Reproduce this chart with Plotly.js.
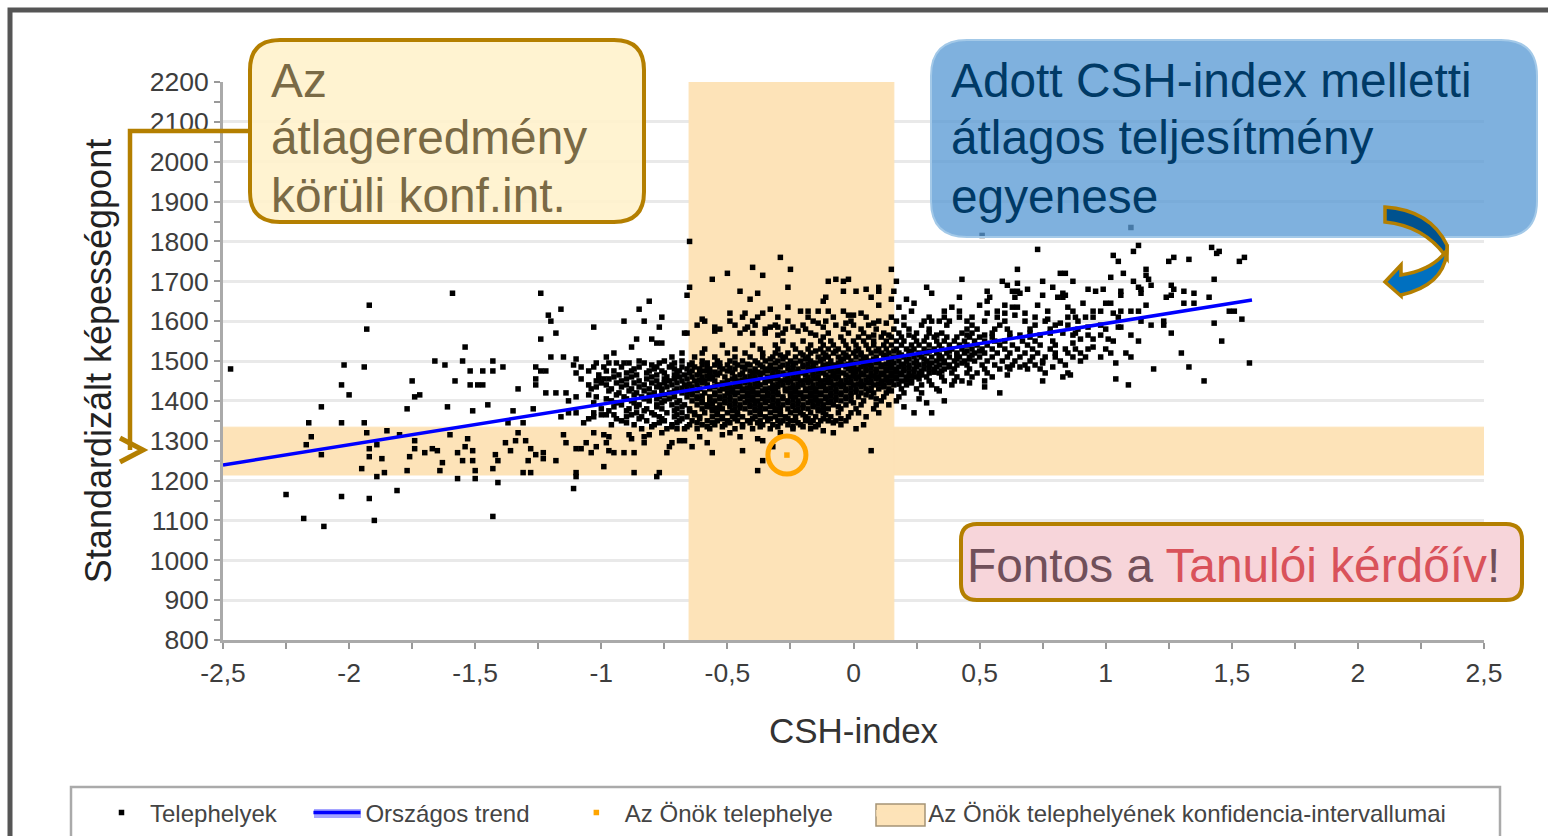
<!DOCTYPE html>
<html><head><meta charset="utf-8">
<script src="https://cdn.plot.ly/plotly-3.0.1.min.js"></script>
<style>html,body{margin:0;padding:0;background:#fff;overflow:hidden}</style>
</head><body><div id="chart" style="width:1548px;height:836px"></div>
<script>
const xTickVals=[-2.5,-2,-1.5,-1,-0.5,0,0.5,1,1.5,2,2.5];
const xTickText=['-2,5','-2','-1,5','-1','-0,5','0','0,5','1','1,5','2','2,5'];
const trendCsh=[-2.5,1.58];
const trendScore=[1239,1653];
const ownCsh=[-0.264];
const ownScore=[1264];
const ciCshLow=-0.652, ciCshHigh=0.16, ciScoreLow=1214, ciScoreHigh=1334;

// [score, csh-index values of the sites at that score]
const sitesUpper=[
[1835,[1.1]],[1815,[.51]],[1800,[-.65]],[1790,[1.13]],[1785,[1.42]],[1780,[.73]],[1775,[1.11,1.45]],[1770,[1.44]],[1765,[1.03]],
[1760,[-.29,1.27,1.55]],[1755,[1.33]],[1750,[1.05,1.25,1.53]],[1735,[-.4]],[1730,[-.25,.15,.65,1.16]],[1720,[-.5,.82,.84,1.07]],
[1715,[-.36,1.16]],[1710,[1.02]],[1705,[-.56,-.07,-.02,.43,1.17,1.43]],[1700,[-.1,-.04,.17,.59,.75,.87,1.11]],[1695,[.65]],
[1690,[.61,1.18,1.26]],[1685,[-.65,-.26,.1,.29,.79,1.13]],[1680,[.05,.69,.93,.99,1.27,1.14]],
[1675,[-.45,-.04,.01,.1,.16,.53,.65,.96,1.06,1.31,.63]],[1670,[-1.59,-1.24,-.38,.31,.83,1.14,1.35,.66]],
[1665,[-.66,.75,.84,1.06,1.26]],[1660,[-.11,.07,.42,.54,.64,.81,.83,1.24,1.41]],[1655,[-.41,.15,.21]],[1650,[-.81,-.12,.53]],
[1645,[.24,1,1.02,.91,1.31,1.35]],[1640,[-1.92,.1,.5,.6,.73,1.16]],[1635,[-.26,.18,.39,.63,.65,.85]],[1630,[-1.16,-.85,-.33]],
[1625,[-.1,-.14,-.18,-.21,-.04,.23,.36,.42,.57,.77,.87,.95,.98,1.06,1.1,1.13,1.49,1.51]],[1620,[-.49,-.43,-.36,.03,.53,.6,.68,1.03]],
[1615,[-1.21,-.02,0,.64]],[1610,[-.76,-.44,-.38,-.18,.2,.36,.42,.88,.95,1.05,-.3,-.08,.05,.15,.3,.47,.57,.72,.85,.92]],[1605,[-.6,.77,1.54]],
[1600,[-1.2,-.91,-.83,-.49,-.26,-.16,-.01,.1,.28,.31,.34,.68,1.14,1.23,-.59,-.4,-.11,.17,.38,.45,.52,.6,.76,.89]],[1595,[-.14,-.03,.08,.13,.82,1.43]],
[1590,[.85,1.18,1.23,-.62,-.47,-.39,-.31,-.2,-.07,0,.06,.2,.27,.37,.47,.58,.72,.8,.98]],
[1585,[-1.03,-.77,-.55,-.42,-.33,-.3,-.24,-.12,.93,1.05,1.06]],[1580,[-1.93,-.43,-.53,-.35,-.27,-.19,-.04,.03,.09,.16,.22,.3,.45,.49,.56,.61,.7,.78,.89,1]],[1575,[-.55,-.22]],
[1570,[-1.18,-.67,-.66,-.4,.83,1.26,-.45,-.35,-.28,-.17,-.1,-.02,.04,.12,.18,.25,.3,.35,.43,.47,.55,.62,.7,.78,.88]],
[1565,[.87,.93,.98,1.1,-.3,-.15,.08,.14,.22,.33,.45,.52,.66,.74]],[1555,[-1.24,-.86,-.8,.9,.95,1.01]],[1545,[-.78,-.76,.87]],[1535,[-1.54,-.88,.95]],
[1550,[1.03,1.13,1.46]],[1530,[.88,.93,1]],[1520,[-.95,1.3,.85,.9,1.02,1.08]],[1510,[-1.2,-1.15,-.98,.87,1.1,.8,.92,.98]],[1505,[-1.1]],[1500,[-1.66,-1.55,-1.43,-.85,.75,.82,.9]],
[1495,[-.94,-.91,.75,1.04,1.57]],[1490,[-2.02,-1.62,-1.11,.72,.84]],[1485,[-1.94,-1.39,-1.26,-1.08,-1.03,.79,.66,.61,1.33]],[1480,[-2.47,.69,1.19,.62,.74]],
[1475,[-1.52,-1.47,-1.43,-1.24,-1.22,-.98]],[1470,[-1.1,.76,.53,.85]],[1465,[.61,.86]],[1460,[.83]],[1455,[-1.26,-1.08,-1.01,-.99,1.04]],
[1450,[-1.75,-1.58,.75,.52,.43,1.39]],[1445,[.46]],[1440,[-2.03,-1.52,-1.49,-1.47,-1.26,-1.05,.39,1.09]],[1435,[.52]],[1430,[-1.33]],
[1425,[.34]],[1420,[-1.22,-1.18,-1.14,.58]],[1415,[-2,-1.72]],[1410,[-1.74,-1.1]],[1405,[.26]],[1400,[-1.13,.36]],[1395,[.29]],[1390,[-1.45]],
[1385,[-2.11,-1.61,.2]],[1380,[-1.77,-1.27]],[1375,[-1.51,-1.35]],[1370,[-1.13,-1.1,-1.03,.24,.31,.1,-.01]],[1365,[-.98,-.95]],[1360,[-1.16]]
];
const sitesCore=[
[1560,[-.12,-.05,.02,.06,.11,.15,.19,.24,.29,.32,.37,.41,.46,.5,.55,.62,.7]],
[1550,[-.28,-.2,-.13,-.09,-.04,0,.04,.08,.13,.17,.2,.25,.28,.33,.36,.4,.44,.48,.52,.56,.6,.67,.72,.79]],
[1540,[-.52,-.4,-.31,-.24,-.17,-.12,-.08,-.03,.01,.05,.08,.12,.15,.19,.23,.26,.3,.34,.38,.42,.45,.49,.53,.58,.63,.69,.74,.8]],
[1530,[-.59,-.47,-.37,-.3,-.23,-.18,-.13,-.1,-.06,-.02,.02,.06,.1,.13,.17,.21,.24,.28,.32,.35,.39,.43,.47,.51,.55,.6,.65,.71,.78,.84]],
[1525,[-.15,-.07,.01,.09,.16,.23,.3,.38,.45,.5]],
[1520,[-.68,-.6,-.5,-.43,-.36,-.31,-.26,-.21,-.17,-.12,-.08,-.04,0,.03,.07,.11,.14,.18,.22,.26,.29,.33,.37,.41,.44,.48,.52,.57,.62,.68,.73,.8]],
[1515,[-.29,-.2,-.11,-.03,.03,.12,.19,.26,.34,.41,.47]],
[1510,[-.72,-.63,-.55,-.47,-.41,-.36,-.32,-.27,-.23,-.18,-.14,-.1,-.06,-.02,.01,.05,.09,.13,.16,.2,.24,.27,.31,.35,.38,.42,.46,.5,.55,.61,.66,.71,.76]],
[1505,[-.33,-.28,-.19,-.12,-.04,.04,.08,.15,.22,.28,.34,.41,.46]],
[1500,[-.75,-.68,-.6,-.54,-.49,-.44,-.39,-.35,-.3,-.25,-.21,-.17,-.13,-.09,-.05,-.01,.03,.06,.1,.14,.18,.21,.25,.29,.33,.36,.4,.44,.48,.53,.59,.64,.7]],
[1495,[-.47,-.38,-.31,-.23,-.15,-.06,.01,.09,.16,.24,.31,.36,.43,-1.02,-.97,-.89,-.83,-.77,-.71,-.64,-.58,-.53]],
[1492,[-.42,-.26,-.18,-.1,-.02,.06,.13,.2,.28]],
[1490,[-.8,-.72,-.65,-.6,-.55,-.5,-.46,-.41,-.37,-.33,-.28,-.24,-.2,-.16,-.12,-.08,-.04,0,.04,.07,.11,.15,.19,.22,.26,.3,.34,.38,.41,.45,.51,.56,.63,.68]],
[1485,[-.53,-.44,-.36,-.29,-.2,-.12,-.03,.03,.11,.18,.25,.33,.38,-.99,-.92,-.85,-.78,-.73,-.68,-.63,-.58]],
[1482,[-.49,-.33,-.24,-.16,-.08,0,.07,.15,.22,.3]],
[1480,[-.87,-.79,-.71,-.66,-.61,-.57,-.52,-.47,-.43,-.39,-.35,-.31,-.26,-.22,-.18,-.14,-.1,-.06,-.02,.02,.05,.09,.13,.17,.2,.24,.28,.32,.36,.4,.46,.52,.58]],
[1475,[-.59,-.5,-.41,-.34,-.25,-.17,-.09,-.01,.05,.13,.2,.27,.35,-1.05,-.95,-.88,-.81,-.76,-.69,-.64]],
[1472,[-.55,-.38,-.3,-.22,-.14,-.06,.01,.09,.17,.24,.32]],
[1470,[-.9,-.82,-.75,-.7,-.65,-.61,-.57,-.53,-.48,-.44,-.4,-.36,-.32,-.28,-.24,-.2,-.16,-.12,-.08,-.04,0,.03,.07,.11,.15,.19,.22,.26,.3,.34,.39,.45,.49]],
[1465,[-.62,-.54,-.45,-.37,-.27,-.19,-.11,-.03,.04,.12,.19,.27,-1.01,-.93,-.86,-.78,-.71,-.67]],
[1462,[-.58,-.41,-.32,-.24,-.16,-.08,0,.08,.15,.23]],
[1460,[-.95,-.88,-.8,-.74,-.69,-.64,-.6,-.56,-.51,-.47,-.43,-.39,-.34,-.3,-.26,-.22,-.18,-.14,-.1,-.06,-.02,.02,.06,.1,.13,.17,.21,.25,.29,.35,.41,.47,.55]],
[1455,[-.66,-.57,-.48,-.4,-.31,-.23,-.15,-.07,.01,.09,.17,.26,-.97,-.9,-.82,-.75,-.71]],
[1452,[-.61,-.44,-.35,-.27,-.19,-.11,-.03,.05,.13,.21]],
[1450,[-1.02,-.92,-.85,-.78,-.73,-.68,-.63,-.59,-.55,-.5,-.46,-.42,-.38,-.33,-.29,-.25,-.21,-.17,-.13,-.09,-.05,-.01,.03,.07,.11,.15,.19,.23,.3,.36,.4]],
[1445,[-.7,-.6,-.52,-.43,-.35,-.26,-.18,-.1,-.02,.06,.14,.23,-1,-.94,-.87,-.8,-.75]],
[1442,[-.65,-.47,-.39,-.3,-.22,-.14,-.06,.02,.1,.18]],
[1440,[-.98,-.9,-.83,-.77,-.72,-.67,-.62,-.58,-.54,-.49,-.45,-.41,-.37,-.32,-.28,-.24,-.2,-.16,-.12,-.08,-.04,0,.04,.08,.12,.16,.21,.27,.31]],
[1435,[-.74,-.64,-.55,-.46,-.38,-.3,-.22,-.13,-.05,.03,.12,-1.02,-.92,-.85,-.78]],
[1432,[-.68,-.5,-.42,-.33,-.25,-.17,-.09,-.01,.07]],
[1430,[-1.04,-.96,-.88,-.81,-.76,-.7,-.66,-.61,-.57,-.52,-.48,-.44,-.4,-.35,-.31,-.27,-.23,-.19,-.15,-.11,-.07,-.03,.01,.05,.1,.14,.19,.25,.33]],
[1425,[-.71,-.62,-.53,-.44,-.36,-.27,-.19,-.11,-.03,.06,.15,-.97,-.89,-.83,-.76]],
[1422,[-.66,-.48,-.4,-.32,-.23,-.15,-.07,.01]],
[1420,[-.93,-.86,-.79,-.73,-.68,-.64,-.59,-.55,-.5,-.46,-.42,-.38,-.34,-.3,-.25,-.21,-.17,-.13,-.09,-.05,-.01,.03,.08,.13,.2,.27]],
[1415,[-.75,-.64,-.55,-.47,-.38,-.3,-.21,-.13,-.05,.05,-1.05,-.94,-.87,-.81]],
[1412,[-.6,-.51,-.42,-.34,-.25,-.17,-.09,-.01]],
[1410,[-1.02,-.91,-.84,-.77,-.71,-.66,-.62,-.57,-.53,-.49,-.44,-.4,-.36,-.32,-.28,-.23,-.19,-.15,-.11,-.07,-.03,.02,.07,.12,.18]],
[1405,[-.73,-.62,-.53,-.45,-.36,-.28,-.2,-.11,-.03,.09,-.98,-.9,-.83,-.78]],
[1402,[-.57,-.49,-.4,-.32,-.24,-.15,-.07]],
[1400,[-.96,-.88,-.81,-.75,-.69,-.64,-.6,-.55,-.51,-.47,-.42,-.38,-.34,-.3,-.26,-.22,-.17,-.13,-.09,-.05,-.01,.04,.11,.17]],
[1395,[-.7,-.6,-.51,-.43,-.35,-.26,-.18,-.1,0,-1.03,-.94,-.87,-.76]],
[1392,[-.56,-.47,-.39,-.3,-.22,-.14]],
[1390,[-.92,-.85,-.78,-.72,-.67,-.62,-.58,-.53,-.49,-.45,-.41,-.37,-.32,-.28,-.24,-.2,-.16,-.12,-.08,-.03,.03,.09,.14]],
[1385,[-.68,-.58,-.49,-.41,-.33,-.24,-.16,-.06,-.95,-.86,-.78]],
[1382,[-.54,-.45,-.37,-.29,-.2,-.12]],
[1380,[-1,-.89,-.82,-.76,-.7,-.65,-.6,-.56,-.52,-.47,-.43,-.39,-.35,-.31,-.26,-.22,-.18,-.14,-.1,-.05,.01,.08]],
[1375,[-.65,-.56,-.48,-.39,-.31,-.23,-.14,-.97,-.9,-.83,-.71]],
[1370,[-.86,-.8,-.74,-.68,-.63,-.59,-.54,-.5,-.46,-.41,-.37,-.33,-.29,-.25,-.21,-.17,-.12,-.06,.02]],
[1365,[-.63,-.54,-.46,-.37,-.29,-.2,-.11,-1,-.88,-.79,-.7]],
[1360,[-1.03,-.9,-.84,-.77,-.71,-.66,-.61,-.56,-.52,-.48,-.44,-.39,-.35,-.31,-.27,-.23,-.19,-.15,-.09,-.02,.05]],
[1355,[-1.05,-.94,-.85,-.76,-.68,-.61,-.52,-.47,-.4,-.33,-.26,-.18,-.12,-.05]],
[1350,[-.92,-.82,-.75,-.69,-.64,-.58,-.54,-.5,-.46,-.42,-.37,-.34,-.3,-.28,-.25,-.23,-.19,-.16,-.13,-.1,-.07,-.03]],
[1345,[-.9,-.77,-.7,-.62,-.56,-.49,-.41,-.38,-.29,-.22,-.17,-.08]],
[1340,[-.96,-.87,-.79,-.72,-.65,-.6,-.55,-.51,-.44,-.36,-.32,-.26,-.21,-.14,-.05,.04]],
[1335,[-.8,-.72,-.66,-.58,-.52,-.44,-.37,-.3,-.24,-.2,-.15]],
[1330,[-.84,-.74,-.7,-.67,-.62,-.57,-.47,-.4,-.33,-.24,-.17,.01]]
];
const sitesLower=[
[1345,[-2.16,-2.03,-1.94,-1.37,-1.31,-1.07]],[1325,[-1.85,-.12]],[1320,[-1.93,-1.33,-1.03,-.76,-.49,-.29,-.08]],
[1315,[-1.8,-1.6,-1.15,-.99,-.89,-.81,-.52]],[1310,[-2.15,-.97,-.83,-.61,-.45]],[1305,[-1.53,-.88,-.38]],[1300,[-1.74,-1.34,-1.3,-.69,-.67,-.36]],
[1295,[-1.38,-1.14,-1.06,-.98,-.83,-.72,-.58]],[1290,[-2.17,-1.89]],[1285,[-1.54,-1.02,-.73,-.64,-.32]],
[1280,[-1.92,-1.74,-1.67,-1.28,-1.1,-1.08]],[1275,[-1.65,-1.51,-1.36,-.97,-.44,.07]],
[1270,[-1.7,-1.57,-1.23,-1.04,-.95,-.91,-.87,-.74,-.56]],[1265,[-2.11,-1.42,-1.26]],[1260,[-1.92,-1.76]],[1255,[-1.87,-1.23]],
[1250,[-1.55,-1.51,-1.41,-1.29,-1.18,-.36]],[1245,[-1.63]],[1235,[-.99]],[1230,[-1.95,-1.43]],[1225,[-1.77,-1.64,-1.5,-.38]],
[1220,[-1.86,-1.31,-1.28,-1.1,-.87,-.77]],[1210,[-1.89,-1.1,-.78]],[1205,[-1.57,-1.5]],[1195,[-1.41]],[1180,[-1.11]],[1175,[-1.81]],
[1165,[-2.25]],[1160,[-2.03]],[1155,[-1.92]],[1110,[-1.43]],[1105,[-2.18]],[1100,[-1.9]],[1085,[-2.1]]
];
const siteRows=[...sitesUpper,...sitesCore,...sitesLower];
const siteCsh=siteRows.flatMap(r=>r[1]);
const siteScore=siteRows.flatMap(r=>r[1].map(()=>r[0]));

// page geometry of the plot area
const L=223,R=1484,T=82,B=640;
const W=1548,H=836;
const px=v=>(v-L)/(R-L), py=v=>(B-v)/(B-T);
const pathOf=(cmds)=>cmds.map(c=>c[0]+(c.length>1?' '+c.slice(1).reduce((a,v,i)=>a.concat(i%2?py(v):px(v)),[]).join(' '):'')).join(' ');
function roundBox(x0,y0,x1,y1,r){
  return pathOf([['M',x0+r,y0],['L',x1-r,y0],['Q',x1,y0,x1,y0+r],['L',x1,y1-r],['Q',x1,y1,x1-r,y1],['L',x0+r,y1],['Q',x0,y1,x0,y1-r],['L',x0,y0+r],['Q',x0,y0,x0+r,y0],['Z']]);
}
const gold='#b47f00';
const pageShape=(path,fill,lineColor,lineWidth)=>({type:'path',xref:'paper',yref:'paper',layer:'above',path,fillcolor:fill,line:{color:lineColor,width:lineWidth}});
const shapes=[
  pageShape(pathOf([['M',10,836],['L',10,10],['L',1548,10]]),'rgba(0,0,0,0)','#555',5),
  pageShape(pathOf([['M',71,836],['L',71,787],['L',1500,787],['L',1500,836]]),'rgba(0,0,0,0)','#aaa',2.5),
  pageShape(pathOf([['M',250,131],['L',130,131],['L',130,450]]),'rgba(0,0,0,0)',gold,4.5),
  pageShape(pathOf([['M',120,438],['L',143,450],['L',120,462]]),'rgba(0,0,0,0)',gold,5),
  pageShape(roundBox(250,40,644,222,30),'rgba(255,242,204,0.9)',gold,4),
  pageShape(roundBox(931,40,1537,237,36),'rgba(91,155,213,0.78)','#a3c9e8',2),
  pageShape(roundBox(961,524,1522,600,16),'#f7d5da',gold,4),
  pageShape(pathOf([['M',1385,207],['Q',1430,210,1447,245],['L',1447,258],['Q',1425,226,1385,222],['Z']]),'#00528f',gold,3.5),
  pageShape(pathOf([['M',1447,250],['Q',1445,285,1401,295],['L',1401,296],['L',1385,282],['L',1401,265],['L',1401,275],['Q',1433,270,1447,250],['Z']]),'#0070c0',gold,3.5),
  pageShape(pathOf([['M',314,809],['L',361,809],['L',361,818],['L',314,818],['Z']]),'#a5a5ff','rgba(0,0,0,0)',0),
  pageShape(pathOf([['M',876,804],['L',925,804],['L',925,826],['L',876,826],['Z']]),'#fde3b8','#a59475',1.5),
  {type:'circle',xref:'x',yref:'y',xsizemode:'pixel',ysizemode:'pixel',xanchor:ownCsh[0],yanchor:ownScore[0],x0:-19,x1:19,y0:-19,y1:19,layer:'above',line:{color:'#ffa500',width:5},fillcolor:'rgba(0,0,0,0)'}
];
const note=(text,x,y,color)=>({text,xref:'paper',yref:'paper',x:px(x),y:py(y),xanchor:'left',yanchor:'middle',showarrow:false,align:'left',font:{family:'Liberation Sans',size:47.8,color}});
const annotations=[
  note('Az',269,81,'#7a6a45'),note('átlageredmény',269,138,'#7a6a45'),note('körüli konf.int.',269,195,'#7a6a45'),
  note('Adott CSH-index melletti',949,81,'#003a66'),note('átlagos teljesítmény',949,138,'#003a66'),note('egyenese',949,196,'#003a66'),
  note('Fontos a <span style="color:#d9525a">Tanulói kérdőív</span>!',965,565,'#71505a')
];
const traces=[
  {type:'scatter',mode:'lines',name:'Az Önök telephelyének konfidencia-intervallumai',legendrank:4,hoverinfo:'skip',
   x:[ciCshLow,ciCshHigh,ciCshHigh,ciCshLow,ciCshLow,null,-2.5,2.5,2.5,-2.5,-2.5],
   y:[800,800,2200,2200,800,null,ciScoreLow,ciScoreLow,ciScoreHigh,ciScoreHigh,ciScoreLow],
   fill:'toself',fillcolor:'#fde3b8',line:{color:'#fde3b8',width:1}},
  {type:'scatter',mode:'markers',name:'Telephelyek\u00a0\u00a0\u00a0\u00a0',legendrank:1,x:siteCsh,y:siteScore,
   marker:{symbol:'square',size:5.5,color:'#000'}},
  {type:'scatter',mode:'lines',name:'Országos trend\u00a0\u00a0\u00a0\u00a0\u00a0',legendrank:2,x:trendCsh,y:trendScore,line:{color:'#0000ff',width:3.5}},
  {type:'scatter',mode:'markers',name:'Az Önök telephelye\u00a0\u00a0\u00a0\u00a0\u00a0',legendrank:3,x:ownCsh,y:ownScore,
   marker:{symbol:'square',size:5.5,color:'#ffa500'}}
];
const axisFont={family:'Liberation Sans',size:26.5,color:'#3d3d3d'};
const layout={
  width:W,height:H,autosize:false,paper_bgcolor:'#fff',plot_bgcolor:'#fff',showlegend:true,
  margin:{l:L,r:W-R,t:T,b:H-B,pad:0,autoexpand:false},
  font:{family:'Liberation Sans',color:'#333'},
  xaxis:{range:[-2.5,2.5],tickmode:'array',tickvals:xTickVals,ticktext:xTickText,tickfont:axisFont,showgrid:false,zeroline:false,
    showline:true,linecolor:'#aaa',linewidth:3,ticks:'outside',ticklen:6,tickcolor:'#999',tickwidth:1.5,ticklabelstandoff:1,
    minor:{dtick:0.25,ticks:'outside',ticklen:6,tickcolor:'#999',tickwidth:1.5,showgrid:false},
    title:{text:'CSH-index',font:{family:'Liberation Sans',size:35,color:'#333'},standoff:32}},
  yaxis:{range:[800,2200],dtick:100,tick0:800,tickfont:axisFont,gridcolor:'#e9e9e9',gridwidth:3,zeroline:false,
    showline:true,linecolor:'#aaa',linewidth:3,ticks:'outside',ticklen:6,tickcolor:'#999',tickwidth:1.5,
    minor:{dtick:50,ticks:'outside',ticklen:6,tickcolor:'#999',tickwidth:1.5,showgrid:false},
    title:{text:'Standardizált képességpont',font:{family:'Liberation Sans',size:36,color:'#222'},standoff:28}},
  legend:{orientation:'h',x:px(93),y:py(813),xanchor:'left',yanchor:'middle',itemwidth:47,traceorder:'normal',
    font:{family:'Liberation Sans',size:24,color:'#444'},bgcolor:'rgba(0,0,0,0)',borderwidth:0,itemclick:false,itemdoubleclick:false},
  shapes,annotations
};
Plotly.newPlot('chart',traces,layout,{displayModeBar:false,responsive:false});
</script></body></html>
